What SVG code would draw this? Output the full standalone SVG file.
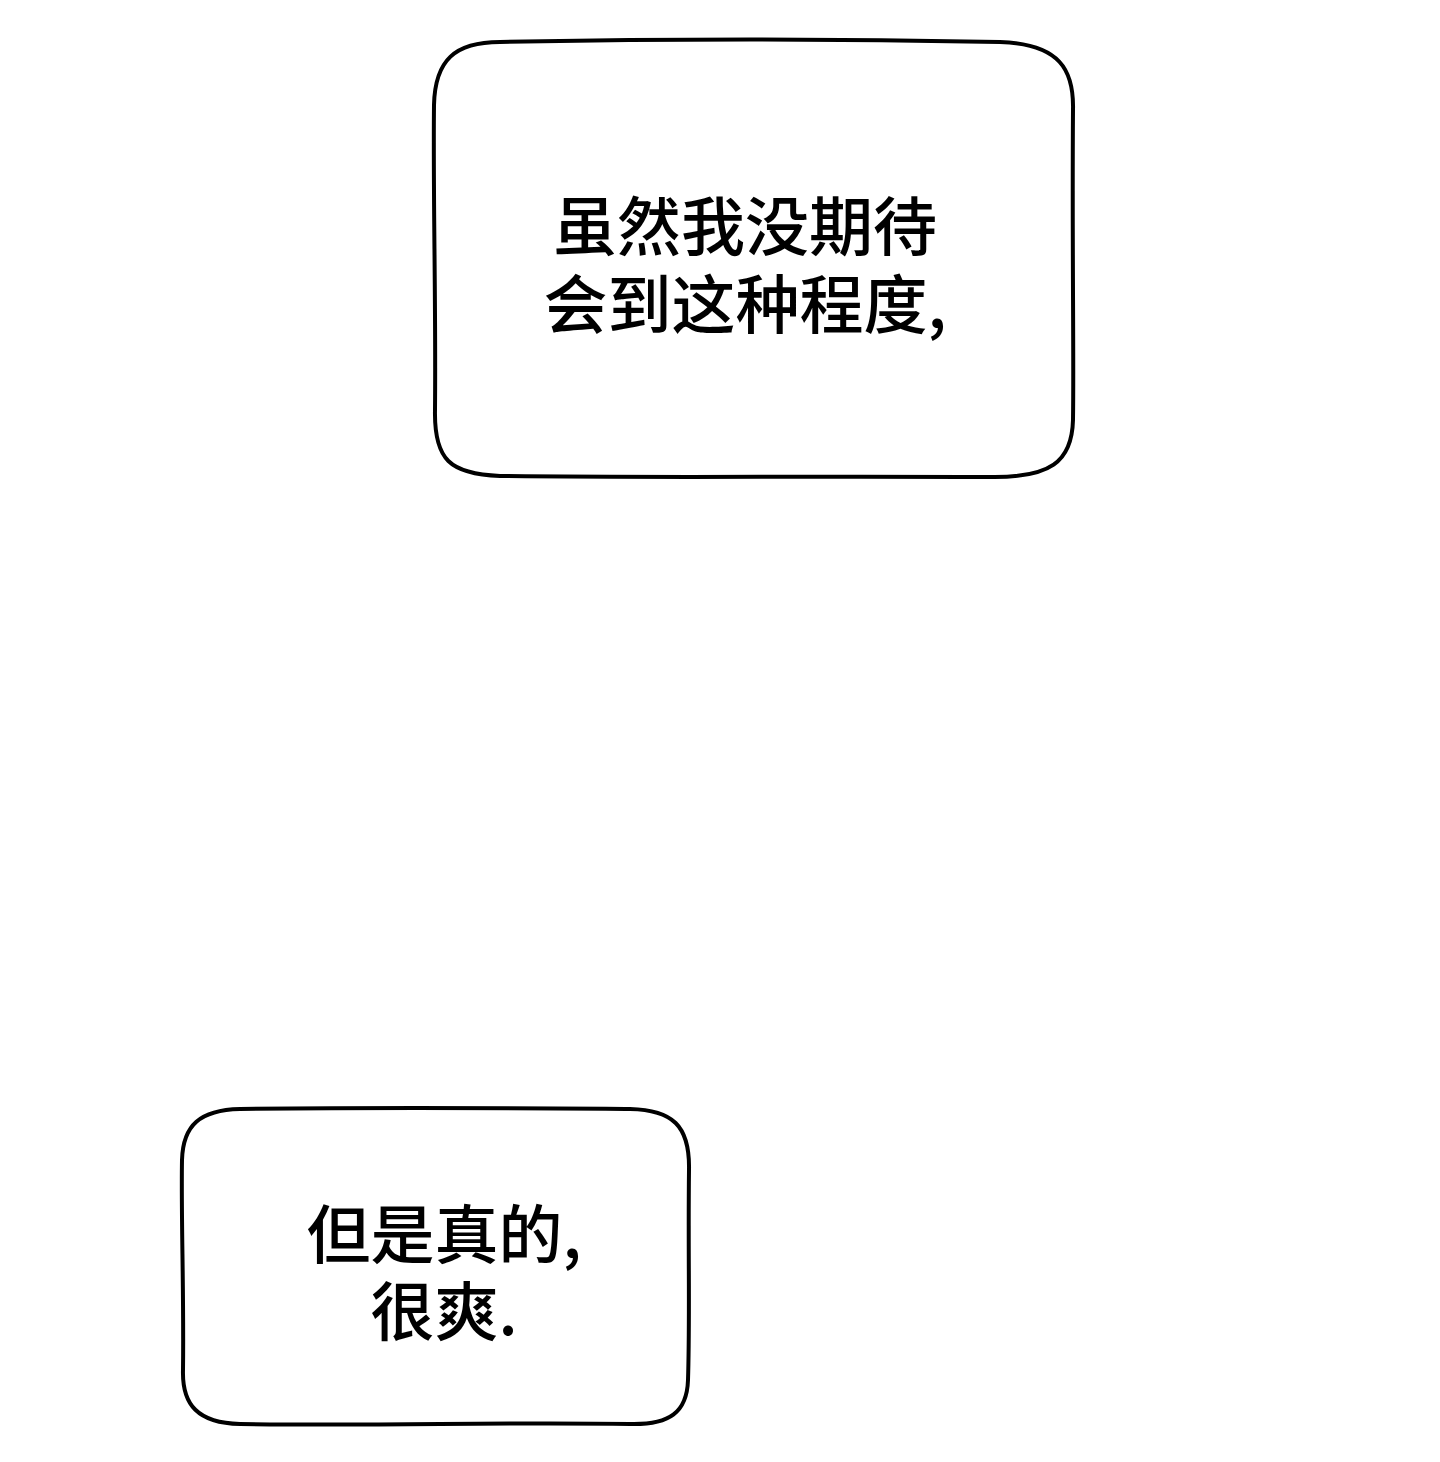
<svg xmlns="http://www.w3.org/2000/svg" width="1440" height="1462" viewBox="0 0 1440 1462">
<style>
.b{fill:#fff;stroke:#000;stroke-width:4}
.t{font-family:"Noto Sans CJK SC",sans-serif;font-size:64px;font-weight:500;fill:#000;text-anchor:middle}
</style>
<rect width="1440" height="1462" fill="#fff"/>
<g id="node1">
<path class="b" d="M500,42 C700,38 900,40 1000,42 C1060,44 1074,70 1073,110 C1072,250 1074,350 1073,420 C1072,462 1050,478 990,477 C800,476 650,478 500,476 C450,474 434,460 435,410 C436,300 433,200 434,105 C435,60 455,42 500,42 Z"/>
<text class="t" x="745" y="250">虽然我没期待</text>
<text class="t" x="745" y="328">会到这种程度,</text>
</g>
<g id="node2">
<path class="b" d="M240,1109 C400,1107 500,1108 630,1109 C672,1110 690,1125 689,1170 C688,1250 690,1320 688,1380 C687,1412 670,1425 630,1424 C500,1422 380,1426 240,1424 C198,1423 182,1405 183,1370 C184,1290 181,1220 182,1160 C183,1125 200,1110 240,1109 Z"/>
<text class="t" x="444" y="1258">但是真的,</text>
<text class="t" x="444" y="1335">很爽.</text>
</g>
<g id="connectors"/>
</svg>
